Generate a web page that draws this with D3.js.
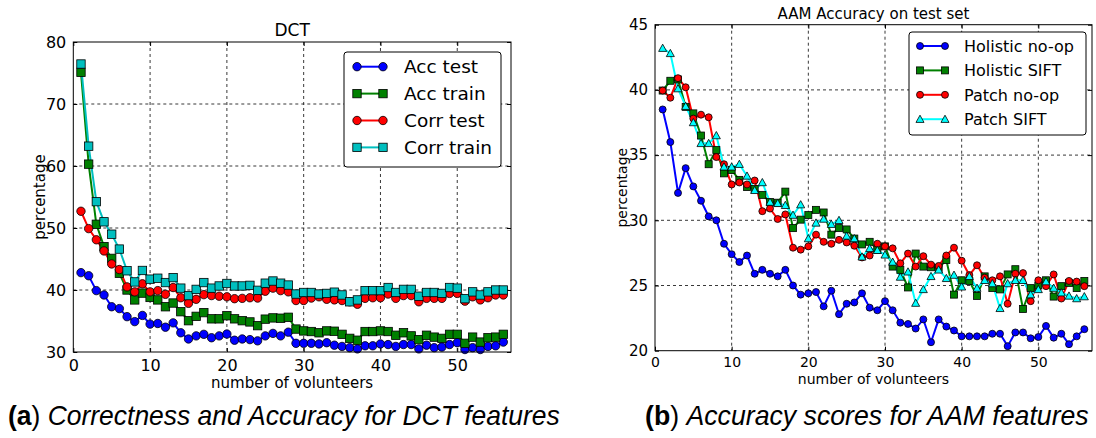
<!DOCTYPE html>
<html>
<head>
<meta charset="utf-8">
<script src="https://cdn.jsdelivr.net/npm/d3@7"></script>
<style>
  html, body { margin: 0; padding: 0; background: #fff; }
  svg { display: block; }
  .tick text { font-family: "DejaVu Sans", sans-serif; }
</style>
</head>
<body>
<svg id="fig" width="1096" height="438"></svg>
<script>
// number of volunteers (x positions shared by every series)
const volunteers = [1,2,3,4,5,6,7,8,9,10,11,12,13,14,15,16,17,18,19,20,
  21,22,23,24,25,26,27,28,29,30,31,32,33,34,35,36,37,38,39,40,
  41,42,43,44,45,46,47,48,49,50,51,52,53,54,55,56];

// (a) DCT features
const accTest = [42.8,42.3,39.9,39.2,37.3,37.0,35.7,34.9,35.9,34.5,
  34.6,34.0,34.7,33.1,32.1,32.6,32.85,32.3,32.6,32.9,
  31.9,32.1,32.0,31.8,32.6,33.0,32.6,33.2,31.4,31.4,
  31.4,31.3,31.5,31.1,30.9,30.7,30.5,31.0,31.0,31.3,
  31.2,30.9,31.2,31.2,30.5,31.1,30.7,30.8,31.2,31.5,
  30.4,30.7,30.4,30.9,31.0,31.6];
const accTrain = [75.1,60.3,50.6,47.0,45.1,42.7,40.0,38.4,39.5,38.8,
  38.4,37.3,37.9,36.5,35.05,35.75,36.35,35.35,35.35,35.85,
  35.35,35.05,34.85,34.25,35.3,35.5,35.45,35.6,33.7,33.4,
  33.3,33.1,33.4,33.35,32.85,32.2,31.9,33.3,33.3,33.4,
  33.3,32.7,33.1,32.6,32.0,32.7,32.4,32.2,32.85,32.85,
  31.4,32.4,31.6,32.3,32.4,32.85];
const corrTest = [52.7,49.9,48.1,46.3,44.2,43.3,40.5,39.7,41.0,39.7,
  39.9,39.3,40.4,38.75,37.85,38.5,39.25,39.1,39.0,38.9,
  38.6,38.65,38.75,38.7,39.8,40.3,39.9,39.7,38.3,38.3,
  38.7,38.9,38.5,38.4,38.3,38.1,37.7,38.65,38.75,38.75,
  39.35,38.65,39.1,39.1,38.1,38.65,38.65,38.65,39.45,39.45,
  38.2,38.9,38.4,38.75,39.2,39.2];
const corrTrain = [76.45,63.2,54.25,51.0,49.0,46.6,43.1,41.3,43.15,41.75,
  41.9,41.2,42.0,40.3,39.1,40.1,41.2,40.3,40.65,41.05,
  40.65,40.65,40.75,39.95,41.1,41.45,41.1,40.8,39.35,39.6,
  39.6,39.35,39.45,39.65,39.2,38.1,38.4,39.9,39.9,39.9,
  40.4,39.6,40.1,40.1,39.0,39.6,39.6,39.45,40.4,40.3,
  38.6,39.7,39.2,39.7,40.0,40.0];

// (b) AAM features
const holisticNoop = [38.5,36.0,32.1,34.0,32.6,31.5,30.3,30.0,28.2,27.4,
  26.8,27.3,25.9,26.2,25.9,25.7,26.2,25.0,24.3,24.4,
  24.5,23.4,24.6,22.8,23.6,23.7,24.4,23.3,23.1,23.8,
  23.1,22.15,22.05,21.7,22.4,20.65,22.4,21.85,21.55,21.1,
  21.1,21.1,21.1,21.3,21.3,20.35,21.4,21.4,20.95,21.05,
  21.9,21.0,21.3,20.5,21.1,21.65];
const holisticSift = [39.95,40.7,40.8,38.7,38.2,36.5,34.3,35.4,33.6,33.85,
  33.1,32.55,32.4,31.95,31.4,31.35,32.2,29.4,30.05,30.4,
  30.8,30.6,28.9,29.4,29.3,28.6,28.15,28.35,27.75,28.0,
  26.45,26.2,24.85,27.45,26.45,26.4,26.35,26.95,24.3,25.4,
  25.35,24.2,25.7,24.8,24.7,25.85,26.25,23.2,24.8,25.0,
  25.4,24.15,24.95,25.2,24.8,25.35];
const patchNoop = [39.95,39.4,40.9,40.2,37.8,38.1,37.9,34.85,34.3,32.75,
  32.9,32.75,33.05,30.7,30.9,30.1,30.45,27.9,27.75,28.0,
  28.9,28.35,28.2,28.5,28.3,28.05,27.15,27.3,28.2,28.0,
  27.85,26.7,27.45,26.45,27.25,26.6,26.5,27.3,27.9,26.9,
  25.8,26.55,25.6,25.4,25.7,23.6,25.9,25.95,23.8,25.4,
  24.95,25.85,24.0,25.35,25.3,24.95];
const patchSift = [43.2,42.8,40.1,38.75,37.5,35.9,35.9,36.5,34.1,34.1,
  34.3,33.4,32.3,32.9,31.4,31.3,31.15,30.4,31.2,28.6,
  29.8,30.1,29.7,30.0,28.8,28.6,27.2,27.85,27.7,27.35,
  26.8,25.65,26.05,23.65,24.7,25.7,26.2,25.55,25.8,24.9,
  25.7,24.8,25.4,25.15,23.25,25.15,25.4,25.4,24.3,24.7,
  25.3,24.8,24.45,24.2,24.0,24.15];

const xTicks = [0,10,20,30,40,50];
const dctTicks = [30,40,50,60,70,80];
const aamTicks = [20,25,30,35,40,45];

const svg = d3.select("#fig");
const FONT = "DejaVu Sans, sans-serif";

function drawPanel(cfg) {
  const g = svg.append("g");
  const x = d3.scaleLinear().domain([0, 57]).range([cfg.left, cfg.right]);
  const y = d3.scaleLinear().domain(cfg.yDomain).range([cfg.bottom, cfg.top]);

  // grid
  const grid = g.append("g").attr("stroke", "#222").attr("stroke-width", 0.9)
    .attr("stroke-dasharray", "3,3");
  xTicks.slice(1).forEach(t => grid.append("line")
    .attr("x1", x(t)).attr("x2", x(t)).attr("y1", cfg.top).attr("y2", cfg.bottom));
  cfg.yTicks.slice(1, -1).forEach(t => grid.append("line")
    .attr("x1", cfg.left).attr("x2", cfg.right).attr("y1", y(t)).attr("y2", y(t)));

  // axes with inward ticks
  const ax = d3.axisBottom(x).tickValues(xTicks).tickSize(-4).tickPadding(cfg.xPad).tickFormat(d3.format("d"));
  const axT = d3.axisTop(x).tickValues(xTicks).tickSize(-4).tickFormat("");
  const ay = d3.axisLeft(y).tickValues(cfg.yTicks).tickSize(-4).tickPadding(7).tickFormat(d3.format("d"));
  const ayR = d3.axisRight(y).tickValues(cfg.yTicks).tickSize(-4).tickFormat("");
  const gx = g.append("g").attr("transform", `translate(0,${cfg.bottom})`).call(ax);
  g.append("g").attr("transform", `translate(0,${cfg.top})`).call(axT);
  const gy = g.append("g").attr("transform", `translate(${cfg.left},0)`).call(ay);
  g.append("g").attr("transform", `translate(${cfg.right},0)`).call(ayR);
  g.selectAll(".domain").remove();
  g.selectAll(".tick line").attr("stroke", "#000");
  gx.selectAll("text").attr("font-size", cfg.xTickSize).attr("fill", "#000");
  gy.selectAll("text").attr("font-size", cfg.yTickSize).attr("fill", "#000");

  // series
  const line = d3.line().x((d, i) => x(volunteers[i])).y(d => y(d));
  cfg.series.forEach(s => {
    g.append("path").datum(s.values).attr("d", line).attr("fill", "none")
      .attr("stroke", s.color).attr("stroke-width", cfg.lineWidth);
  });
  cfg.series.forEach(s => {
    const pts = g.append("g");
    s.values.forEach((v, i) => drawMarker(pts, s.marker, x(volunteers[i]), y(v), cfg.markerSize, s.color));
  });

  // frame
  g.append("rect").attr("x", cfg.left).attr("y", cfg.top)
    .attr("width", cfg.right - cfg.left).attr("height", cfg.bottom - cfg.top)
    .attr("fill", "none").attr("stroke", "#000").attr("stroke-width", 1);

  // title and axis labels
  g.append("text").attr("x", (cfg.left + cfg.right) / 2).attr("y", cfg.top - 6)
    .attr("text-anchor", "middle").attr("font-family", FONT).attr("font-size", cfg.titleSize)
    .text(cfg.title);
  g.append("text").attr("x", (cfg.left + cfg.right) / 2).attr("y", cfg.xLabelY)
    .attr("text-anchor", "middle").attr("font-family", FONT).attr("font-size", cfg.labelSize)
    .text("number of volunteers");
  g.append("text").attr("transform", `translate(${cfg.yLabelX},${(cfg.top + cfg.bottom) / 2}) rotate(-90)`)
    .attr("text-anchor", "middle").attr("font-family", FONT).attr("font-size", cfg.labelSize)
    .text("percentage");

  // legend
  const L = cfg.legend;
  g.append("rect").attr("x", L.x).attr("y", L.y).attr("width", L.w).attr("height", L.h)
    .attr("rx", 3).attr("fill", "#fff").attr("stroke", "#000").attr("stroke-width", 1);
  cfg.series.forEach((s, i) => {
    const cy = L.y + L.first + i * L.step;
    g.append("line").attr("x1", L.x + L.lx1).attr("x2", L.x + L.lx2).attr("y1", cy).attr("y2", cy)
      .attr("stroke", s.color).attr("stroke-width", cfg.lineWidth);
    drawMarker(g, s.marker, L.x + L.lx1, cy, cfg.markerSize, s.color);
    drawMarker(g, s.marker, L.x + L.lx2, cy, cfg.markerSize, s.color);
    g.append("text").attr("x", L.x + L.tx).attr("y", cy).attr("dy", "0.36em")
      .attr("font-family", FONT).attr("font-size", L.fontSize).text(s.name);
  });
}

function drawMarker(sel, type, cx, cy, r, color) {
  let m;
  if (type === "circle") {
    m = sel.append("circle").attr("cx", cx).attr("cy", cy).attr("r", r);
  } else if (type === "square") {
    m = sel.append("rect").attr("x", cx - r).attr("y", cy - r).attr("width", 2 * r).attr("height", 2 * r);
  } else {
    const s = r * 1.15;
    m = sel.append("path").attr("d", `M${cx},${cy - s}L${cx + s},${cy + s * 0.8}L${cx - s},${cy + s * 0.8}Z`);
  }
  m.attr("fill", color).attr("stroke", "#000").attr("stroke-width", 0.8);
}

drawPanel({
  left: 73.3, right: 511, top: 42, bottom: 352,
  yDomain: [30, 80], yTicks: dctTicks,
  xTickSize: 16, yTickSize: 16, xPad: 8,
  title: "DCT", titleSize: 17, labelSize: 15,
  xLabelY: 388, yLabelX: 45,
  lineWidth: 2, markerSize: 4.2,
  series: [
    { name: "Acc test", values: accTest, color: "#0000ff", marker: "circle" },
    { name: "Acc train", values: accTrain, color: "#008000", marker: "square" },
    { name: "Corr test", values: corrTest, color: "#ff0000", marker: "circle" },
    { name: "Corr train", values: corrTrain, color: "#00bfbf", marker: "square" }
  ],
  legend: { x: 344, y: 52, w: 157, h: 115, first: 14.7, step: 26.9, lx1: 13, lx2: 39, tx: 60, fontSize: 18.5 }
});

drawPanel({
  left: 655, right: 1092, top: 24.7, bottom: 350.7,
  yDomain: [20, 45], yTicks: aamTicks,
  xTickSize: 14, yTickSize: 15, xPad: 6,
  title: "AAM Accuracy on test set", titleSize: 15, labelSize: 14,
  xLabelY: 384, yLabelX: 627,
  lineWidth: 2, markerSize: 3.5,
  series: [
    { name: "Holistic no-op", values: holisticNoop, color: "#0000ff", marker: "circle" },
    { name: "Holistic SIFT", values: holisticSift, color: "#008000", marker: "square" },
    { name: "Patch no-op", values: patchNoop, color: "#ff0000", marker: "circle" },
    { name: "Patch SIFT", values: patchSift, color: "#00ffff", marker: "triangle" }
  ],
  legend: { x: 909, y: 32, w: 177, h: 103, first: 14, step: 24.4, lx1: 11, lx2: 36, tx: 55, fontSize: 16 }
});

// sub-figure captions: a tall sans face, narrowed horizontally to the caption width
function caption(xPos, letter, text, width) {
  const t = svg.append("text").attr("x", 0).attr("y", 0)
    .attr("font-family", "Liberation Sans, Arial, sans-serif").attr("font-size", 27);
  t.append("tspan").attr("font-weight", "bold").text("(" + letter);
  t.append("tspan").text(") ");
  t.append("tspan").attr("font-style", "italic").text(text);
  const w = t.node().getComputedTextLength();
  t.attr("transform", `translate(${xPos},425) scale(${width / w},1)`);
}
caption(8, "a", "Correctness and Accuracy for DCT features", 552);
caption(645, "b", "Accuracy scores for AAM features", 444);
</script>
</body>
</html>
